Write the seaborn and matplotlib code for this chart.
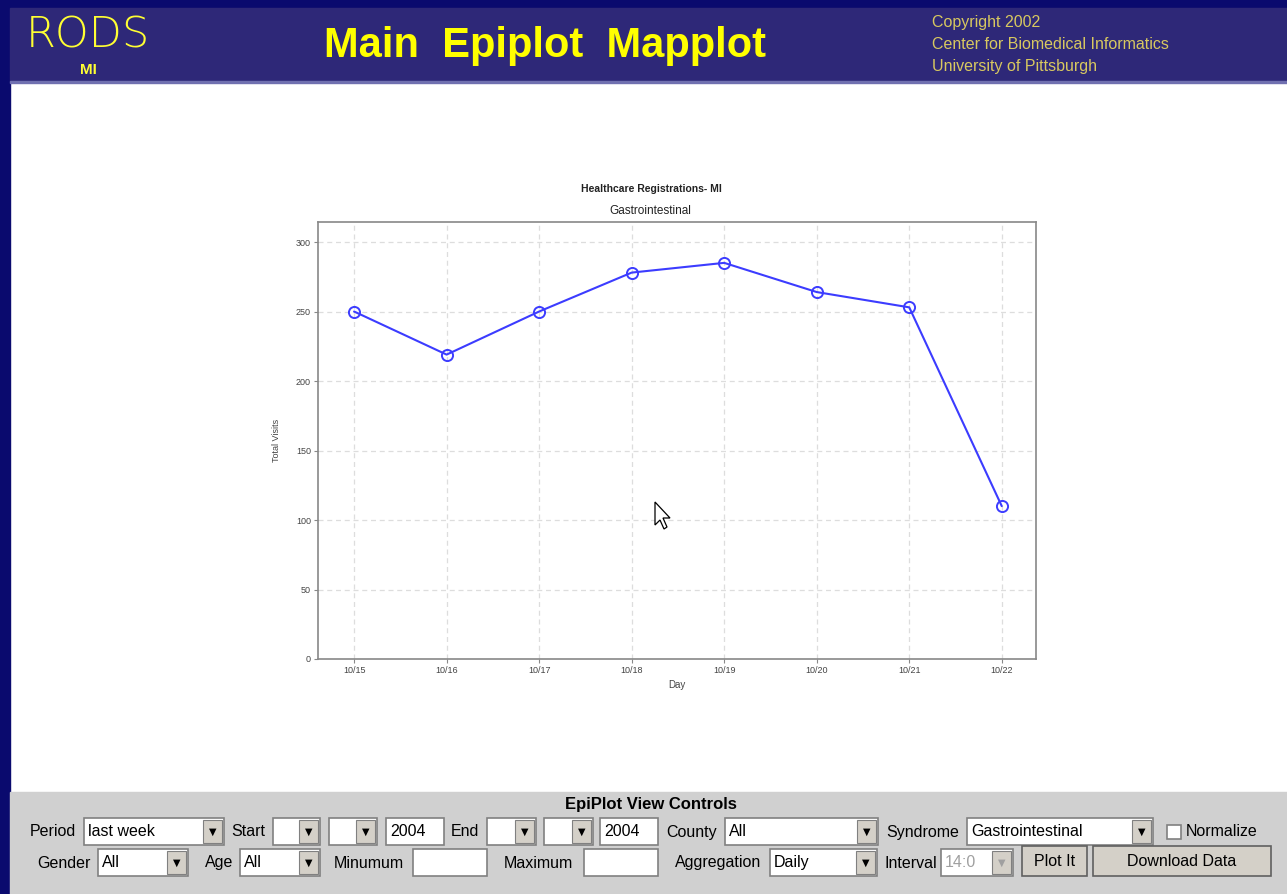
import numpy as np
import pandas as pd
import matplotlib.pyplot as plt
import seaborn as sns
from matplotlib.patches import Rectangle, Polygon

# Данные графика
days = ['10/15', '10/16', '10/17', '10/18', '10/19', '10/20', '10/21', '10/22']
visits = [250, 219, 250, 278, 285, 264, 253, 110]
y_ticks = [0, 50, 100, 150, 200, 250, 300]

W, H = 1287, 894
sns.set_style("whitegrid")
plt.rcParams['font.family'] = ['Liberation Sans', 'DejaVu Sans']

fig = plt.figure(figsize=(W / 100, H / 100), dpi=100)
fig.patch.set_facecolor('white')

# Фон страницы в пиксельных координатах
bg = fig.add_axes([0, 0, 1, 1], zorder=0)
bg.set_xlim(0, W)
bg.set_ylim(H, 0)
bg.axis('off')

navy = '#0a0a6e'
header = '#2e2878'
panel = '#d0d0d0'

bg.add_patch(Rectangle((0, 0), W, 8, color=navy))
bg.add_patch(Rectangle((0, 0), 10, H, color=navy))
bg.add_patch(Rectangle((10, 8), W - 10, 73, color=header))
bg.add_patch(Rectangle((10, 81), W - 10, 2, color='#7070b0'))
bg.add_patch(Rectangle((10, 792), W - 10, H - 792, color=panel))

# Шапка
bg.text(88, 35, 'RODS', color='#ffff33', fontsize=31, family='DejaVu Sans',
        fontweight='light', ha='center', va='center')
bg.text(88, 70, 'MI', color='#ffff33', fontsize=11, fontweight='bold',
        ha='center', va='center')
bg.text(545, 46, 'Main  Epiplot  Mapplot', color='#ffff00', fontsize=30,
        fontweight='bold', ha='center', va='center')
for i, line in enumerate(['Copyright 2002', 'Center for Biomedical Informatics',
                          'University of Pittsburgh']):
    bg.text(932, 22 + i * 22.5, line, color='#d8c860', fontsize=11.5,
            ha='left', va='center')

# Заголовки графика
bg.text(651, 189, 'Healthcare Registrations- MI', fontsize=7.5, fontweight='bold',
        ha='center', va='center', color='#222222')
bg.text(650, 211, 'Gastrointestinal', fontsize=8.5, ha='center', va='center',
        color='#222222')

# Панель управления
bg.text(651, 804, 'EpiPlot View Controls', fontsize=12, fontweight='bold',
        ha='center', va='center', color='black')


def label(x, y, s):
    bg.text(x, y, s, fontsize=11.5, ha='left', va='center', color='black')


def textbox(x0, x1, y0, y1, s='', color='black'):
    bg.add_patch(Rectangle((x0, y0), x1 - x0, y1 - y0, facecolor='white',
                           edgecolor='#808080', linewidth=1.2))
    if s:
        bg.text(x0 + 4, (y0 + y1) / 2, s, fontsize=11.5, ha='left', va='center',
                color=color)


def dropdown(x0, x1, y0, y1, s='', disabled=False):
    textbox(x0, x1, y0, y1, s, color='#a0a0a0' if disabled else 'black')
    bw = 19
    bg.add_patch(Rectangle((x1 - bw - 2, y0 + 2), bw, y1 - y0 - 4,
                           facecolor='#d4d0c8', edgecolor='#808080', linewidth=0.8))
    bg.text(x1 - bw / 2 - 2, (y0 + y1) / 2, '▼', fontsize=7, family='DejaVu Sans',
            ha='center', va='center', color='#a0a0a0' if disabled else 'black')


def button(x0, x1, y0, y1, s):
    bg.add_patch(Rectangle((x0, y0), x1 - x0, y1 - y0, facecolor='#d4d0c8',
                           edgecolor='#606060', linewidth=1.2))
    bg.text((x0 + x1) / 2, (y0 + y1) / 2, s, fontsize=11.5, ha='center',
            va='center', color='black')


r1a, r1b, r1 = 818, 845, 832
r2a, r2b, r2 = 849, 876, 863

label(30, r1, 'Period')
dropdown(84, 224, r1a, r1b, 'last week')
label(231, r1, 'Start')
dropdown(273, 320, r1a, r1b)
dropdown(329, 377, r1a, r1b)
textbox(386, 444, r1a, r1b, '2004')
label(451, r1, 'End')
dropdown(487, 536, r1a, r1b)
dropdown(544, 593, r1a, r1b)
textbox(600, 658, r1a, r1b, '2004')
label(666, r1, 'County')
dropdown(725, 878, r1a, r1b, 'All')
label(886, r1, 'Syndrome')
dropdown(967, 1153, r1a, r1b, 'Gastrointestinal')
bg.add_patch(Rectangle((1167, 825), 14, 14, facecolor='white',
                       edgecolor='#808080', linewidth=1.2))
label(1186, r1, 'Normalize')

label(37, r2, 'Gender')
dropdown(98, 188, r2a, r2b, 'All')
label(205, r2, 'Age')
dropdown(240, 320, r2a, r2b, 'All')
label(334, r2, 'Minumum')
textbox(413, 487, r2a, r2b)
label(504, r2, 'Maximum')
textbox(584, 658, r2a, r2b)
label(675, r2, 'Aggregation')
dropdown(770, 877, r2a, r2b, 'Daily')
label(884, r2, 'Interval')
dropdown(941, 1013, r2a, r2b, '14:0', disabled=True)
button(1022, 1087, 846, 876, 'Plot It')
button(1093, 1271, 846, 876, 'Download Data')

# Сам график
ax = fig.add_axes([318 / W, 1 - 659 / H, 718 / W, 437 / H], zorder=2)
ax.set_facecolor('white')

df = pd.DataFrame({'Day': days, 'Total Visits': visits})
sns.lineplot(data=df, x='Day', y='Total Visits', ax=ax, color='#3c3cff',
             linewidth=1.5, marker='o', markersize=8, markerfacecolor='none',
             markeredgecolor='#3c3cff', markeredgewidth=1.4)

ax.set_xlim(-0.39, 7.37)
ax.set_ylim(0, 314.4)
ax.set_yticks(y_ticks)
ax.grid(True, color='#dddddd', linestyle=(0, (4, 3)), linewidth=0.9)
for s in ax.spines.values():
    s.set_color('#888888')
    s.set_linewidth(1.2)
ax.tick_params(axis='both', direction='out', length=3, width=0.8,
               color='#888888', labelsize=6.5, labelcolor='#444444', pad=2,
               left=True, bottom=True)
ax.set_xlabel('Day', fontsize=7, color='#444444', labelpad=4)
ax.set_ylabel('Total Visits', fontsize=6.5, color='#444444', labelpad=11)

# Указатель мыши поверх графика
top = fig.add_axes([0, 0, 1, 1], zorder=5)
top.set_xlim(0, W)
top.set_ylim(H, 0)
top.axis('off')
top.patch.set_alpha(0)
top.add_patch(Polygon([[655, 502], [655, 525], [660, 520], [664, 529], [667, 527],
                       [663, 518], [670, 518]], closed=True, facecolor='white',
                      edgecolor='black', linewidth=0.9))

fig.savefig('out.png', dpi=100)
